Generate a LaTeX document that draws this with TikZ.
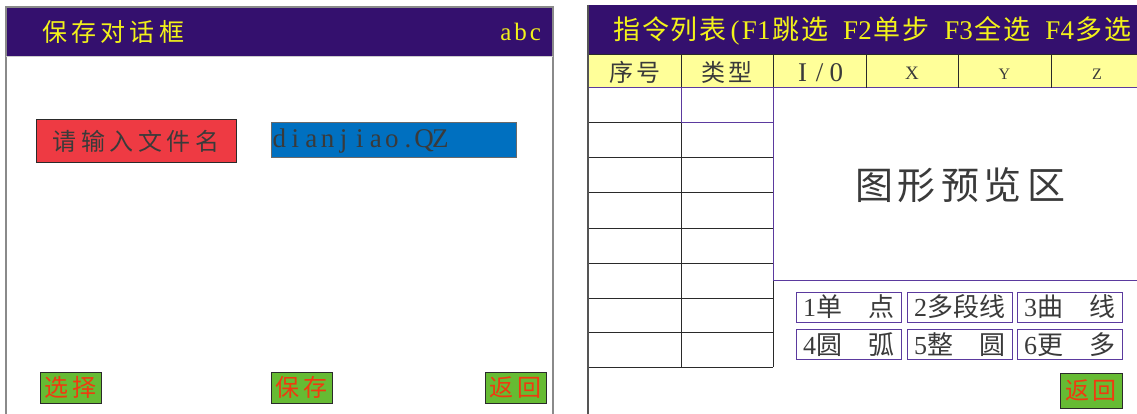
\documentclass[tikz,border=0pt]{standalone}
\usepackage{fontspec}
\setmainfont{Liberation Serif}
\newfontfamily\cjk{Noto Sans CJK SC}
\newfontfamily\ser{Liberation Serif}
\newcommand\fs[1]{\fontsize{#1}{#1}\selectfont}
\makeatletter
\newcommand\spread[2]{\def\my@gap{#1}\my@spread#2\relax}
\def\my@spread#1{\ifx#1\relax\unskip\else #1\hskip\my@gap\expandafter\my@spread\fi}
% monospaced grid: CJK chars take two cells, others one cell
\newlength\my@hw
\newcommand\monoline[2]{\setlength\my@hw{#1}\my@mono#2\relax}
\def\my@mono#1{\ifx#1\relax\else\ifnum`#1>255 \makebox[2\my@hw]{\cjk #1}\else\makebox[\my@hw]{\ser #1}\fi\expandafter\my@mono\fi}
\makeatother
\definecolor{hdr}{HTML}{34106E}
\definecolor{ttl}{HTML}{F2F21A}
\definecolor{tyel}{HTML}{FFFF99}
\definecolor{rbox}{HTML}{EE3A43}
\definecolor{bbox}{HTML}{0070C0}
\definecolor{gbtn}{HTML}{66BB33}
\definecolor{rtxt}{HTML}{F03A10}
\definecolor{pbrd}{HTML}{5B3A9E}
\definecolor{dtxt}{HTML}{2A2A2A}
\definecolor{ltxt}{HTML}{3A3A3A}
\definecolor{frm}{HTML}{8A8A8A}
\tikzset{
  txt/.style={inner sep=0pt},
  greenbtn/.style={draw=dtxt, fill=gbtn, line width=1pt, inner sep=0pt, text=rtxt, font=\cjk\fs{24}},
  optbtn/.style={draw=pbrd, line width=1pt, minimum width=105pt, minimum height=30pt, inner sep=0pt, text=ltxt, font=\cjk\fs{26}},
  grid/.style={draw=dtxt, line width=1pt},
  pgrid/.style={draw=pbrd, line width=1pt},
}
\begin{document}
\begin{tikzpicture}[x=1pt,y=-1pt]
\useasboundingbox (0,0) rectangle (1137,414);
% ---------- left panel ----------
\fill[hdr] (6,7) rectangle (553,56);
\draw[frm, line width=1.5pt] (6,414) -- (6,7) -- (553,7) -- (553,414);
\draw[gray!40, line width=0.8pt] (6,56.5) -- (553,56.5);
\node[txt, anchor=west, text=ttl, font=\fs{25}] (ltitle) at (40,32) {\monoline{14.6pt}{保存对话框}};
\node[txt, anchor=east, text=ttl, font=\fs{25}] (labc) at (543,32) {\monoline{14.8pt}{abc}};
\node[draw=dtxt, fill=rbox, line width=1pt, minimum width=200pt, minimum height=43pt, inner sep=0pt, text=ltxt, font=\fs{24}] (prompt) at (136,141.5) {\monoline{14.3pt}{请输入文件名}};
\node[draw=dtxt!70, fill=bbox, line width=1pt, minimum width=245pt, minimum height=35pt, inner sep=0pt] (fname) at (393.5,140.5) {};
\node[txt, anchor=west, text=ltxt, font=\fs{27}] (fnametxt) at ([xshift=0.5pt,yshift=-1pt]fname.west) {\monoline{16.1pt}{dianjiao.QZ}};
\node[greenbtn, minimum width=61pt, minimum height=31pt] (bsel) at (70.5,387.5) {\spread{4pt}{选择}};
\node[greenbtn, minimum width=61pt, minimum height=31pt] (bsave) at (301.5,387.5) {\spread{4pt}{保存}};
\node[greenbtn, minimum width=61pt, minimum height=31pt] (bret) at (515.5,387.5) {\spread{4pt}{返回}};
% ---------- right panel ----------
\fill[hdr] (588,5) rectangle (1137,55);
\fill[tyel] (588,55) rectangle (1137,88);
\draw[grid] (588,55) -- (1137,55);
\draw[pgrid] (588,88) -- (1137,88);
\foreach \cx in {681,773,866,958,1051} \draw[grid] (\cx,55) -- (\cx,88);
\node[txt, anchor=west, text=ttl, font=\fs{27}] (rtitle) at (612,30.5) {\monoline{14.45pt}{指令列表(F1跳选~F2单步~F3全选~F4多选}};
\node[txt, text=ltxt, font=\fs{24}] (hseq) at (634.5,72) {\monoline{13.5pt}{序号}};
\node[txt, text=ltxt, font=\fs{24}] (htype) at (727,72) {\monoline{13.5pt}{类型}};
\node[txt, text=ltxt, font=\fs{27}] (hio) at (819.5,72.5) {\monoline{17pt}{I/0}};
\node[txt, text=ltxt, font=\ser\fs{19}] (hx) at (912,73) {X};
\node[txt, text=ltxt, font=\ser\fs{16}] (hy) at (1004.5,74) {Y};
\node[txt, text=ltxt, font=\ser\fs{16}] (hz) at (1097,74) {Z};
% table rows
\foreach \ry in {123,158,193,228,263,298,332,367} \draw[grid] (588,\ry) -- (773,\ry);
\draw[grid] (681,88) -- (681,367);
\draw[grid] (773,123) -- (773,367);
\draw[pgrid] (681,88) rectangle (773,123);
\draw[pbrd, line width=1pt] (773,88) -- (773,280) -- (1137,280);
\draw[dtxt!80, line width=1.5pt] (588,5) -- (588,414);
\node[txt, text=ltxt, font=\cjk\fs{38}] (preview) at (960,185) {\spread{5pt}{图形预览区}};
% option buttons
\node[optbtn] (o1) at (848.5,307) {\makebox[91pt]{\ser 1\cjk 单\hfill 点}};
\node[optbtn] (o2) at (959.5,307) {\makebox[91pt]{\ser 2\cjk 多\hfill 段\hfill 线}};
\node[optbtn] (o3) at (1069.5,307) {\makebox[91pt]{\ser 3\cjk 曲\hfill 线}};
\node[optbtn] (o4) at (848.5,344.5) {\makebox[91pt]{\ser 4\cjk 圆\hfill 弧}};
\node[optbtn] (o5) at (959.5,344.5) {\makebox[91pt]{\ser 5\cjk 整\hfill 圆}};
\node[optbtn] (o6) at (1069.5,344.5) {\makebox[91pt]{\ser 6\cjk 更\hfill 多}};
\node[greenbtn, minimum width=62pt, minimum height=35pt] (rret) at (1091,390.5) {\spread{4pt}{返回}};
\end{tikzpicture}
\end{document}
